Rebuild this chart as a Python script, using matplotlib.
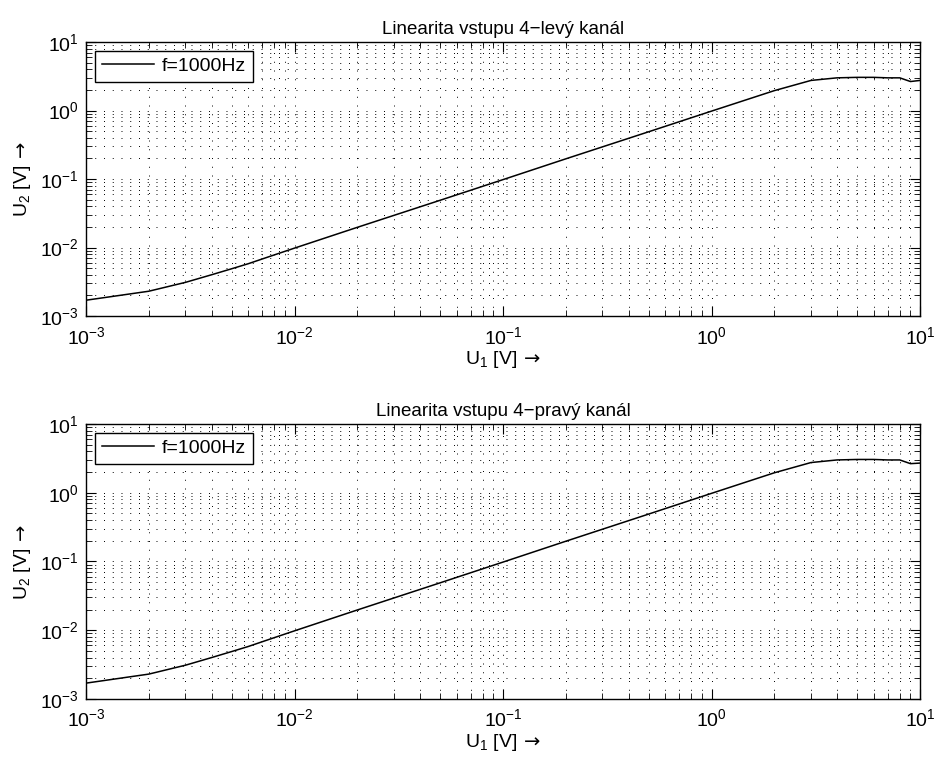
import numpy as np
import matplotlib
matplotlib.use("Agg")
import matplotlib.pyplot as plt

plt.rcParams['font.family'] = ['Liberation Sans', 'DejaVu Sans']
plt.rcParams['mathtext.fontset'] = 'custom'
plt.rcParams['mathtext.rm'] = 'Liberation Sans'
plt.rcParams['mathtext.sf'] = 'DejaVu Sans'

# measured input / output voltages (f = 1000 Hz)
u1 = [0.001, 0.002, 0.003, 0.004, 0.005, 0.006, 0.007, 0.008, 0.009,
      0.01, 0.02, 0.05, 0.1, 0.2, 0.5, 1.0, 2.0, 3.0, 4.0, 5.0, 6.0, 7.0, 8.0, 9.0, 10.0]
u2_left = [0.0017, 0.0023, 0.0031, 0.0040, 0.0049, 0.0058, 0.0068, 0.0078, 0.0088,
           0.0098, 0.0197, 0.049, 0.098, 0.197, 0.49, 0.98, 1.95, 2.75, 3.0, 3.05, 3.05, 3.0, 3.0, 2.65, 2.75]
u2_right = [0.0017, 0.0023, 0.0031, 0.0040, 0.0049, 0.0058, 0.0068, 0.0078, 0.0088,
            0.0098, 0.0197, 0.049, 0.098, 0.197, 0.49, 0.98, 1.95, 2.75, 3.0, 3.05, 3.05, 3.0, 3.0, 2.65, 2.7]
titles = ["Linearita vstupu 4\u2212levý kanál", "Linearita vstupu 4\u2212pravý kanál"]
legend_label = "f=1000Hz"

fig = plt.figure(figsize=(9.36, 7.6), dpi=100)
ax1 = fig.add_axes([0.0919, 0.5842, 0.891, 0.3605])
ax2 = fig.add_axes([0.0919, 0.0803, 0.891, 0.3618])

for ax, u2, title in zip((ax1, ax2), (u2_left, u2_right), titles):
    ax.loglog(u1, u2, color="k", lw=1.1, label=legend_label)
    ax.set_xlim(1e-3, 10)
    ax.set_ylim(1e-3, 10)
    ax.grid(True, which="both", color="k", linestyle=(0, (1, 8)), lw=0.7)
    ax.tick_params(which="both", direction="in", top=True, right=True, labelsize=14)
    ax.tick_params(axis="x", which="major", pad=7)
    ax.tick_params(axis="y", which="major", pad=5)
    ax.tick_params(which="major", length=7)
    ax.tick_params(which="minor", length=4)
    for s in ax.spines.values():
        s.set_linewidth(1.0)
    ax.set_title(title, fontsize=13.5, pad=6)
    ax.set_xlabel("U$_1$ [V]$\\,\\mathsf{\\rightarrow}$", fontsize=14, labelpad=1)
    ax.set_ylabel("U$_2$ [V]$\\,\\mathsf{\\rightarrow}$", fontsize=14, labelpad=5)
    leg = ax.legend(loc="upper left", fontsize=14, fancybox=False, framealpha=1,
                    edgecolor="k", handlelength=2.7, handletextpad=0.4,
                    borderaxespad=0.45, borderpad=0.35)
    leg.get_frame().set_linewidth(1.0)

fig.savefig("out.png", dpi=100)
